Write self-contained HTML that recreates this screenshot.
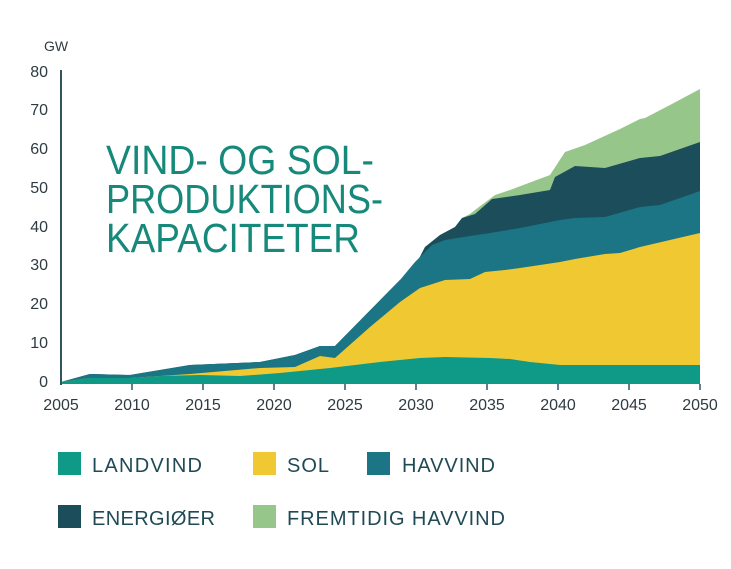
<!DOCTYPE html>
<html><head><meta charset="utf-8"><style>
body{margin:0;background:#fff;width:731px;height:564px;overflow:hidden}
svg text{font-family:"Liberation Sans",sans-serif}
</style></head><body>
<svg width="731" height="564" xmlns="http://www.w3.org/2000/svg">
<g fill="#2e3b40" font-size="16">
<text x="44" y="51" font-size="14">GW</text>
<g text-anchor="end" font-size="16">
<text x="48" y="77">80</text><text x="48" y="115">70</text><text x="48" y="154">60</text><text x="48" y="193">50</text><text x="48" y="232">40</text><text x="48" y="270">30</text><text x="48" y="309">20</text><text x="48" y="348">10</text><text x="48" y="387">0</text>
</g>
<g text-anchor="middle" font-size="16">
<text x="61" y="410">2005</text><text x="132" y="410">2010</text><text x="203" y="410">2015</text><text x="274" y="410">2020</text><text x="345" y="410">2025</text><text x="416" y="410">2030</text><text x="487" y="410">2035</text><text x="558" y="410">2040</text><text x="629" y="410">2045</text><text x="700" y="410">2050</text>
</g>
</g>
<polygon fill="#97c68a" points="61,384 61,382 90,374 130,375 190,365 260,362 295,355 320,346 335,346 400,280 410,276 425,247 440,235 455,227 462,218 470,214 475,210 495,195 510,190 550,175 565,152 585,145 620,129 640,119 645,118 670,105 700,89 700,384"/>
<polygon fill="#1c4d5b" points="61,384 61,382 90,374 130,375 190,365 260,362 295,355 320,346 335,346 400,280 410,276 425,247 440,235 455,227 462,218 475,214 492,199 520,195 550,190 555,177 575,166 605,168 640,158 660,156 700,142 700,384"/>
<polygon fill="#1b7584" points="61,384 61,382 90,374 130,375 190,365 260,362 295,355 320,346 335,346 400,280 415,262 432,245 445,240 470,236 490,233 520,228 560,220 575,218 605,217 640,207 660,205 700,191 700,384"/>
<polygon fill="#f0c832" points="61,384 61,382 90,378 130,378 190,374 260,368 295,367 320,356 335,358 370,327 400,302 420,288 445,280 470,279 485,272 505,270 520,268 560,262 575,259 605,254 620,253 640,247 700,233 700,384"/>
<polygon fill="#0e9a86" points="61,384 61,382 90,378 130,378 160,376 200,375 240,376 280,373 330,368 380,362 420,358 445,357 490,358 510,359 530,362 560,365 700,365 700,384"/>
<line x1="61" y1="70" x2="61" y2="385" stroke="#2e5560" stroke-width="2"/>
<g stroke="#2e5560" stroke-width="1.5">
<line x1="132" y1="384" x2="132" y2="390"/><line x1="203" y1="384" x2="203" y2="390"/><line x1="274" y1="384" x2="274" y2="390"/><line x1="345" y1="384" x2="345" y2="390"/><line x1="416" y1="384" x2="416" y2="390"/><line x1="487" y1="384" x2="487" y2="390"/><line x1="558" y1="384" x2="558" y2="390"/><line x1="629" y1="384" x2="629" y2="390"/><line x1="700" y1="384" x2="700" y2="390"/>
</g>
<g fill="#16897a" font-size="41">
<text x="106" y="174" textLength="268" lengthAdjust="spacingAndGlyphs">VIND- OG SOL-</text>
<text x="106" y="213" textLength="277" lengthAdjust="spacingAndGlyphs">PRODUKTIONS-</text>
<text x="106" y="252" textLength="254" lengthAdjust="spacingAndGlyphs">KAPACITETER</text>
</g>
<rect x="58" y="452" width="23" height="23" fill="#0e9a86"/>
<rect x="253" y="452" width="23" height="23" fill="#f0c832"/>
<rect x="367" y="452" width="23" height="23" fill="#1b7584"/>
<rect x="58" y="505" width="23" height="23" fill="#1c4d5b"/>
<rect x="253" y="505" width="23" height="23" fill="#97c68a"/>
<g fill="#1f4a55" font-size="20">
<text x="92" y="472" textLength="110">LANDVIND</text>
<text x="287" y="472" textLength="42">SOL</text>
<text x="402" y="472" textLength="93">HAVVIND</text>
<text x="92" y="525" textLength="123">ENERGIØER</text>
<text x="287" y="525" textLength="218">FREMTIDIG HAVVIND</text>
</g>
</svg>
</body></html>
